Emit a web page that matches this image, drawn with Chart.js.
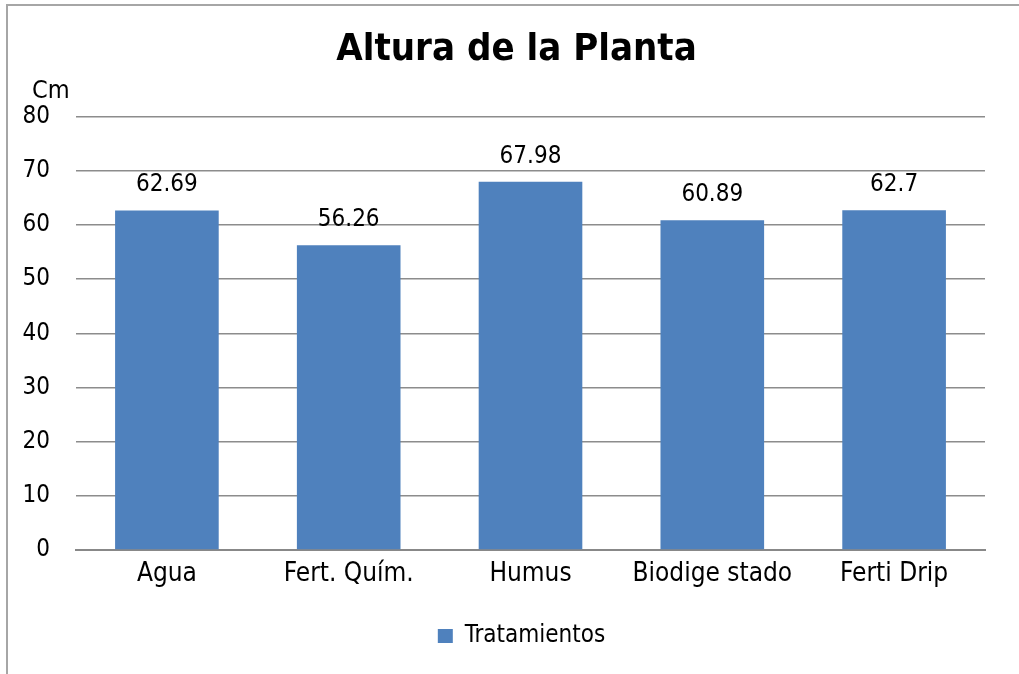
<!DOCTYPE html>
<html>
<head>
<meta charset="utf-8">
<script src="https://cdn.jsdelivr.net/npm/chart.js@4/dist/chart.umd.min.js"></script>
<style>
  html, body { margin: 0; padding: 0; background: #fff; }
  #wrap { width: 1019px; height: 674px; }
</style>
</head>
<body>
<div id="wrap"><canvas id="myChart" width="1019" height="674"></canvas></div>
<script>
const categories = ["Agua", "Fert. Quím.", "Humus", "Biodige stado", "Ferti Drip"];
const alturas = [62.69, 56.26, 67.98, 60.89, 62.7];
const yTicks = [0, 10, 20, 30, 40, 50, 60, 70, 80];

const FONT = "'DejaVu Sans Condensed', 'DejaVu Sans', sans-serif";

// frame, y-axis unit and the value labels above bars
const extras = {
  id: "extras",
  afterLayout(chart) {
    // title and legend sit centred on the whole frame, not on the plot
    chart.titleBlock.left += 24;
    chart.titleBlock.right += 24;
    chart.legend.left += 29;
    chart.legend.right += 29;
  },
  beforeDraw(chart) {
    const ctx = chart.ctx;
    ctx.save();
    ctx.strokeStyle = "#a6a6a6";
    ctx.lineWidth = 2;
    ctx.beginPath();
    ctx.moveTo(7, 674);
    ctx.lineTo(7, 5);
    ctx.lineTo(1019, 5);
    ctx.stroke();
    ctx.restore();
  },
  afterDatasetsDraw(chart) {
    const ctx = chart.ctx;
    ctx.save();
    ctx.fillStyle = "#000";
    ctx.font = "24px " + FONT;
    ctx.textAlign = "center";
    ctx.textBaseline = "alphabetic";
    chart.getDatasetMeta(0).data.forEach((bar, i) => {
      ctx.fillText(String(alturas[i]), bar.x, bar.y - 19);
    });
    ctx.font = "25px " + FONT;
    ctx.textAlign = "left";
    ctx.fillText("Cm", 32, 98);
    ctx.restore();
  }
};

new Chart(document.getElementById("myChart"), {
  type: "bar",
  data: {
    labels: categories,
    datasets: [{
      label: "Tratamientos",
      data: alturas,
      backgroundColor: "#4F81BD",
      borderWidth: 0,
      barPercentage: 0.57,
      categoryPercentage: 1.0
    }]
  },
  options: {
    responsive: false,
    animation: false,
    layout: { padding: { left: 0, right: 34, top: 0, bottom: 16 } },
    plugins: {
      title: {
        display: true,
        text: "Altura de la Planta",
        color: "#000",
        font: { family: FONT, size: 38, weight: "bold" },
        padding: { top: 27, bottom: 44 }
      },
      legend: {
        position: "bottom",
        labels: {
          color: "#000",
          font: { family: FONT, size: 24 },
          boxWidth: 15,
          boxHeight: 14,
          padding: 10
        }
      },
      tooltip: { enabled: false }
    },
    scales: {
      x: {
        grid: { display: false },
        border: { display: true, color: "#888", width: 2 },
        ticks: { color: "#000", font: { family: FONT, size: 26 }, padding: 1, maxRotation: 0, autoSkip: false },
        afterFit(scale) { scale.height = 64; }
      },
      y: {
        min: 0,
        max: 80,
        afterBuildTicks(scale) { scale.ticks = yTicks.map(v => ({ value: v })); },
        grid: { color: "#8c8c8c", lineWidth: 1.5, drawTicks: false },
        border: { display: false },
        ticks: { color: "#000", font: { family: FONT, size: 24 }, padding: 26 },
        afterFit(scale) { scale.width = 76; }
      }
    }
  },
  plugins: [extras]
});
</script>
</body>
</html>
